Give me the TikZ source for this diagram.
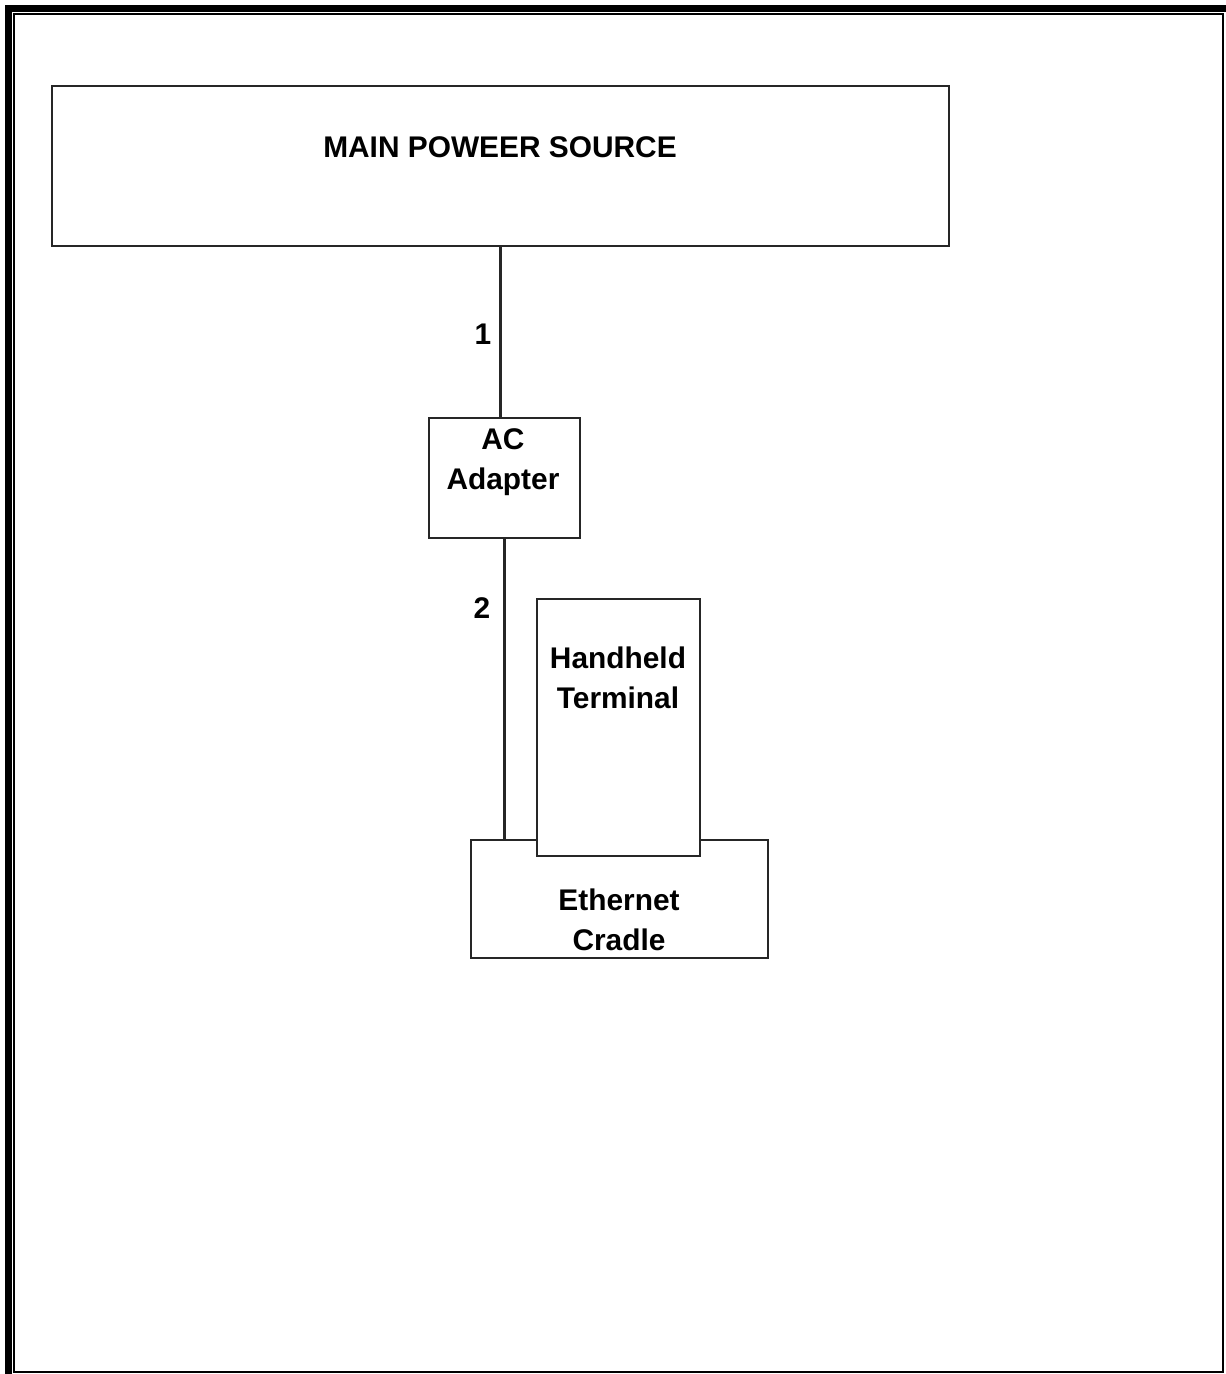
\documentclass[tikz,border=0pt]{standalone}
\usepackage{fontspec}
\setmainfont{Liberation Sans}
\usetikzlibrary{positioning}
\tikzset{
    box/.style ={
        shape=rectangle,
        draw=black!85,
        fill=white,
        line width=1.3pt,
        inner sep=0pt
    },
    lbl/.style ={
        font=\fontsize{17}{22.7}\selectfont\bfseries,
        align=center,
        inner sep=0pt
    },
    wire/.style ={
        draw=black!85,
        line width=1.5pt
    }
}

\begin{document}
\begin{tikzpicture}[x=0.02cm,y=-0.02cm]
    \useasboundingbox (0,0) rectangle (1226,1374);
    % frame
    \draw[line width=0.14cm] (8.5,1374) -- (8.5,8.5) -- (1226,8.5);
    \draw[line width=1.2pt] (14,14) rectangle (1223,1372);

    \node[box, minimum width=17.94cm, minimum height=3.2cm] (main) at(500.5,166) {};
    \node[lbl] (mainlbl) at(500,147) {MAIN POWEER SOURCE};
    \node[box, minimum width=3.02cm, minimum height=2.4cm] (adapter) at(504.5,478) {};
    \node[lbl] (adapterlbl) at(503,462) {AC\\Adapter};
    \node[box, minimum width=5.94cm, minimum height=2.36cm] (cradle) at(619.5,899) {};
    \node[lbl] (cradlelbl) at(619,920) {Ethernet\\Cradle};
    \node[box, minimum width=3.26cm, minimum height=5.14cm] (handheld) at(618.5,727.5) {};
    \node[lbl] (handheldlbl) at(618,678) {Handheld\\Terminal};

    \draw[wire] (main.south) -- (main.south |- adapter.north);
    \node[lbl] (one) at(483,334) {1};
    \draw[wire] (adapter.south) -- (adapter.south |- cradle.north);
    \node[lbl] (two) at(482,608) {2};
\end{tikzpicture}
\end{document}
